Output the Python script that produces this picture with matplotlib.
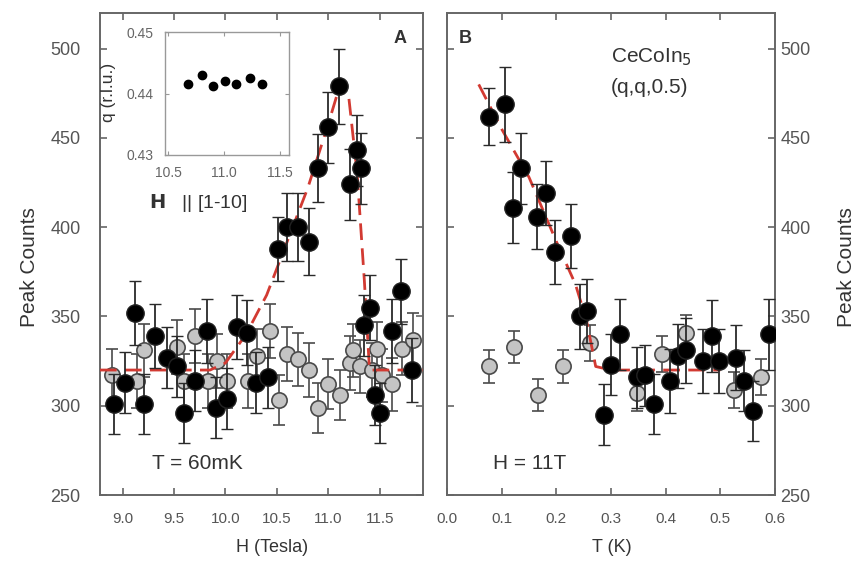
import matplotlib
matplotlib.use("Agg")
import matplotlib.pyplot as plt

# ---------------------------------------------------------------------------
# Data
# ---------------------------------------------------------------------------

# panel A: field scan at T = 60 mK
a_black_h = [8.92, 9.02, 9.12, 9.21, 9.31, 9.43, 9.53, 9.60, 9.70, 9.82, 9.91,
             10.01, 10.11, 10.21, 10.30, 10.41, 10.51, 10.60, 10.70, 10.81,
             10.90, 11.00, 11.10, 11.21, 11.28, 11.32, 11.35, 11.40, 11.45,
             11.50, 11.62, 11.71, 11.81]
a_black_cnt = [301, 313, 352, 301, 339, 327, 322, 296, 314, 342, 299,
               304, 344, 341, 313, 316, 388, 400, 400, 392,
               433, 456, 479, 424, 443, 433, 345, 355, 306,
               296, 342, 364, 320]
a_black_err = [17, 17, 18, 17, 18, 17, 17, 17, 17, 18, 17,
               17, 18, 18, 17, 17, 18, 19, 19, 19,
               19, 20, 21, 20, 20, 20, 17, 18, 17,
               17, 18, 18, 18]

a_gray_h = [8.90, 9.14, 9.21, 9.53, 9.60, 9.70, 9.83, 9.92, 10.01, 10.22,
            10.31, 10.43, 10.52, 10.60, 10.70, 10.81, 10.90, 11.00, 11.11,
            11.21, 11.24, 11.31, 11.42, 11.47, 11.52, 11.62, 11.72, 11.82]
a_gray_cnt = [317, 314, 331, 333, 314, 339, 314, 325, 314, 314,
              328, 342, 303, 329, 326, 320, 299, 312, 306,
              324, 331, 322, 320, 332, 317, 312, 332, 337]
a_gray_err = [15, 15, 15, 15, 15, 15, 15, 15, 15, 15,
              15, 15, 14, 15, 15, 15, 14, 14, 14,
              15, 15, 15, 15, 15, 15, 15, 15, 15]

a_fit_h = [8.78, 9.85, 10.0, 10.2, 10.4, 10.6, 10.8, 11.0, 11.12, 11.2,
           11.28, 11.35, 11.40, 11.92]
a_fit_cnt = [320, 320, 324, 340, 362, 392, 422, 458, 481, 472,
             430, 370, 320, 320]

# inset: incommensurate wavevector vs field
inset_h = [10.68, 10.80, 10.90, 11.01, 11.11, 11.23, 11.34]
inset_q = [0.4416, 0.4430, 0.4413, 0.4421, 0.4415, 0.4426, 0.4415]

# panel B: temperature scan at H = 11 T
b_black_t = [0.076, 0.107, 0.120, 0.136, 0.165, 0.181, 0.197, 0.227, 0.243,
             0.257, 0.288, 0.300, 0.317, 0.348, 0.362, 0.379, 0.408, 0.422,
             0.438, 0.469, 0.484, 0.498, 0.529, 0.543, 0.560, 0.589]
b_black_cnt = [462, 469, 411, 433, 406, 419, 386, 395, 350,
               353, 295, 323, 340, 316, 317, 301, 314, 328,
               331, 325, 339, 325, 327, 314, 297, 340]
b_black_err = [16, 21, 20, 20, 18, 18, 18, 18, 18,
               18, 17, 17, 20, 17, 17, 17, 18, 18,
               18, 18, 20, 18, 18, 17, 17, 20]

b_gray_t = [0.076, 0.122, 0.167, 0.212, 0.261, 0.348, 0.393, 0.438, 0.525, 0.574]
b_gray_cnt = [322, 333, 306, 322, 335, 307, 329, 341, 309, 316]
b_gray_err = [9, 9, 9, 9, 10, 10, 10, 10, 10, 10]

b_fit_t = [0.058, 0.10, 0.15, 0.20, 0.235, 0.255, 0.272, 0.30, 0.50]
b_fit_cnt = [480, 455, 428, 392, 368, 348, 322, 320, 320]

# ---------------------------------------------------------------------------
# Figure
# ---------------------------------------------------------------------------

plt.rcParams["font.family"] = ["Liberation Sans", "DejaVu Sans"]

TXT = "#333333"
TICK = "#555555"
SPINE = "#666666"
RED = "#d23a32"
W, H = 857, 570

fig = plt.figure(figsize=(W / 100, H / 100), dpi=100)
ax_a = fig.add_axes([100 / W, 1 - 495 / H, 323 / W, 482 / H])
ax_b = fig.add_axes([447 / W, 1 - 495 / H, 328 / W, 482 / H])


def style(ax):
    for s in ax.spines.values():
        s.set_color(SPINE)
        s.set_linewidth(1.4)
    ax.tick_params(direction="in", length=5, width=1.2, color=SPINE,
                   labelcolor=TICK, top=True, bottom=True, left=True, right=True)
    ax.tick_params(axis="x", labelsize=11, pad=12)
    ax.tick_params(axis="y", labelsize=13)
    ax.set_ylim(250, 520)
    ax.set_yticks([250, 300, 350, 400, 450, 500])


def draw(ax, xg, yg, eg, xb, yb, eb, xf, yf):
    ax.errorbar(xg, yg, yerr=eg, fmt="o", ms=11, mfc="#c4c4c4", mec="#4a4a4a",
                mew=1.2, ecolor="#4a4a4a", elinewidth=1.2, capsize=4.5,
                capthick=1.2, zorder=2)
    ax.plot(xf, yf, color=RED, lw=2.0, dashes=(6, 3), zorder=3)
    ax.errorbar(xb, yb, yerr=eb, fmt="o", ms=12.5, mfc="black", mec="#222222",
                mew=1.0, ecolor="#2a2a2a", elinewidth=1.3, capsize=4.5,
                capthick=1.3, zorder=4)


# (A) field dependence
style(ax_a)
draw(ax_a, a_gray_h, a_gray_cnt, a_gray_err, a_black_h, a_black_cnt, a_black_err,
     a_fit_h, a_fit_cnt)
ax_a.set_xlim(8.78, 11.92)
ax_a.set_xticks([9.0, 9.5, 10.0, 10.5, 11.0, 11.5])
ax_a.set_xticklabels(["9.0", "9.5", "10.0", "10.5", "11.0", "11.5"])
ax_a.tick_params(axis="y", pad=14)
ax_a.text(0.95, 0.965, "A", transform=ax_a.transAxes, ha="right", va="top",
          fontsize=13, fontweight="bold", color=TXT)
ax_a.text(0.16, 0.045, "T = 60mK", transform=ax_a.transAxes, ha="left",
          va="bottom", fontsize=15, color=TXT)

# (B) temperature dependence
style(ax_b)
draw(ax_b, b_gray_t, b_gray_cnt, b_gray_err, b_black_t, b_black_cnt, b_black_err,
     b_fit_t, b_fit_cnt)
ax_b.set_xlim(0.0, 0.6)
ax_b.set_xticks([0.0, 0.1, 0.2, 0.3, 0.4, 0.5, 0.6])
ax_b.set_xticklabels(["0.0", "0.1", "0.2", "0.3", "0.4", "0.5", "0.6"])
ax_b.tick_params(axis="y", labelleft=False, labelright=True, pad=4)
ax_b.text(0.035, 0.965, "B", transform=ax_b.transAxes, ha="left", va="top",
          fontsize=13, fontweight="bold", color=TXT)
ax_b.text(0.5, 0.93, "CeCoIn$_5$", transform=ax_b.transAxes, ha="left",
          va="top", fontsize=15, color=TXT)
ax_b.text(0.5, 0.865, "(q,q,0.5)", transform=ax_b.transAxes, ha="left",
          va="top", fontsize=15, color=TXT)
ax_b.text(0.14, 0.045, "H = 11T", transform=ax_b.transAxes, ha="left",
          va="bottom", fontsize=15, color=TXT)

# axis titles placed in figure pixels
fig.text(272 / W, 1 - 548 / H, "H (Tesla)", ha="center", va="center",
         fontsize=13, color=TXT)
fig.text(612 / W, 1 - 548 / H, "T (K)", ha="center", va="center",
         fontsize=13, color=TXT)
fig.text(30 / W, 1 - 267 / H, "Peak Counts", ha="center", va="center",
         rotation=90, fontsize=15, color=TXT)
fig.text(846 / W, 1 - 267 / H, "Peak Counts", ha="center", va="center",
         rotation=90, fontsize=15, color=TXT)

# inset: q vs H
ax_in = fig.add_axes([165 / W, 1 - 155 / H, 124 / W, 123 / H])
ax_in.plot(inset_h, inset_q, "o", ms=6, color="black")
ax_in.set_xlim(10.47, 11.58)
ax_in.set_ylim(0.43, 0.45)
ax_in.set_xticks([10.5, 11.0, 11.5])
ax_in.set_xticklabels(["10.5", "11.0", "11.5"])
ax_in.set_yticks([0.43, 0.44, 0.45])
ax_in.set_yticklabels(["0.43", "0.44", "0.45"])
for s in ax_in.spines.values():
    s.set_color("#999999")
    s.set_linewidth(1.0)
ax_in.tick_params(direction="in", length=3, width=0.8, color="#999999",
                  labelcolor="#666666", labelsize=10, top=True, right=True)
ax_in.tick_params(axis="x", pad=8)
ax_in.tick_params(axis="y", pad=8)
fig.text(108 / W, 1 - 92 / H, "q (r.l.u.)", ha="center", va="center",
         rotation=90, fontsize=12.5, color=TXT)
fig.text(198 / W, 1 - 203 / H, r"$\mathbf{H}$   || [1-10]", ha="center",
         va="center", fontsize=14, color=TXT)

fig.savefig("out.png", dpi=100, facecolor="white")
